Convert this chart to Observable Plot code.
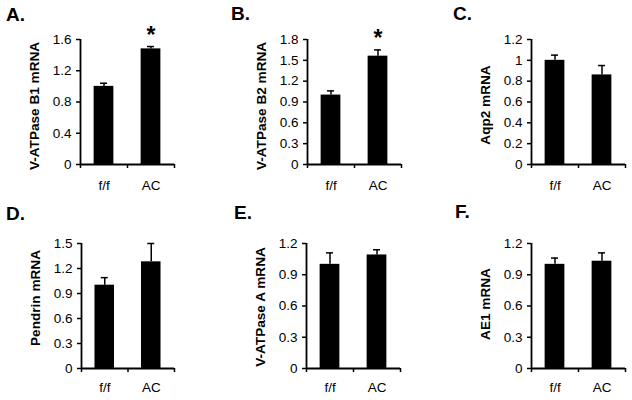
<!DOCTYPE html>
<html>
<head>
<meta charset="utf-8">
<script src="https://cdn.jsdelivr.net/npm/d3@7"></script>
<script src="https://cdn.jsdelivr.net/npm/@observablehq/plot@0.6"></script>
<style>
  html, body { margin: 0; padding: 0; background: #fff; }
  #chart { position: relative; width: 632px; height: 400px; font-family: Arial, "Liberation Sans", sans-serif; }
  .panel { position: absolute; }
  .letter { position: absolute; font-weight: bold; font-size: 19px; line-height: 19px; color: #000; }
</style>
</head>
<body>
<div id="chart"></div>
<script>
// ---- data ----
const groups = ["f/f", "AC"];
const panelLetters = ["A.", "B.", "C.", "D.", "E.", "F."];
const yLabels = ["V-ATPase B1 mRNA", "V-ATPase B2 mRNA", "Aqp2 mRNA", "Pendrin mRNA", "V-ATPase A mRNA", "AE1 mRNA"];
const ffMeans = [1.00, 1.00, 1.00, 1.00, 1.00, 1.00];
const acMeans = [1.48, 1.56, 0.86, 1.28, 1.09, 1.03];
const ffErrors = [0.04, 0.06, 0.05, 0.09, 0.11, 0.06];
const acErrors = [0.03, 0.09, 0.09, 0.22, 0.05, 0.08];
const acSignificant = [true, true, false, false, false, false];
const yTicks = [
  [0, 0.4, 0.8, 1.2, 1.6],
  [0, 0.3, 0.6, 0.9, 1.2, 1.5, 1.8],
  [0, 0.2, 0.4, 0.6, 0.8, 1, 1.2],
  [0, 0.3, 0.6, 0.9, 1.2, 1.5],
  [0, 0.3, 0.6, 0.9, 1.2],
  [0, 0.3, 0.6, 0.9, 1.2]
];

// ---- layout (styles / positions) ----
const layout = [
  {left: 0,   top: 0,   width: 210, mL: 80,  mR: 36, mT: 39, mB: 36, labelDy: 4,  lx: 6,   ly: 5},
  {left: 210, top: 0,   width: 210, mL: 97,  mR: 19, mT: 39, mB: 36, labelDy: 4,  lx: 231, ly: 4},
  {left: 420, top: 0,   width: 212, mL: 111, mR: 7,  mT: 39, mB: 36, labelDy: 3,  lx: 453, ly: 4},
  {left: 0,   top: 200, width: 210, mL: 81,  mR: 36, mT: 43, mB: 32, labelDy: -8, lx: 6,   ly: 204},
  {left: 210, top: 200, width: 210, mL: 96,  mR: 20, mT: 43, mB: 32, labelDy: 1,  lx: 234, ly: 203},
  {left: 420, top: 200, width: 212, mL: 111, mR: 7,  mT: 43, mB: 32, labelDy: -2, lx: 455, ly: 202}
];
const barHalf = 0.21;
const capHalf = 0.075;

const chart = document.getElementById("chart");

panelLetters.forEach((letter, p) => {
  const L = layout[p];
  const rows = groups.map((g, i) => ({
    group: g,
    pos: i + 0.5,
    mean: i === 0 ? ffMeans[p] : acMeans[p],
    err: i === 0 ? ffErrors[p] : acErrors[p],
    sig: i === 0 ? false : acSignificant[p]
  }));
  const ticks = yTicks[p];
  const yMax = ticks[ticks.length - 1];

  const svg = Plot.plot({
    width: L.width,
    height: 200,
    marginLeft: L.mL,
    marginRight: L.mR,
    marginTop: L.mT,
    marginBottom: L.mB,
    style: {fontFamily: "Arial, 'Liberation Sans', sans-serif", fontSize: "13px", color: "#000", background: "#fff", overflow: "visible"},
    x: {domain: [0, 2], axis: null},
    y: {domain: [0, yMax], axis: null},
    marks: [
      Plot.rect(rows, {x1: d => d.pos - barHalf, x2: d => d.pos + barHalf, y1: 0, y2: "mean", fill: "#000"}),
      Plot.ruleX(rows, {x: "pos", y1: "mean", y2: d => d.mean + d.err, stroke: "#000", strokeWidth: 1.5}),
      Plot.ruleY(rows, {x1: d => d.pos - capHalf, x2: d => d.pos + capHalf, y: d => d.mean + d.err, stroke: "#000", strokeWidth: 1.5}),
      Plot.text(rows.filter(d => d.sig), {x: "pos", y: d => d.mean + d.err, text: () => "*", fontSize: 23, fontWeight: "bold", dy: -11, fill: "#000"}),
      Plot.axisY({ticks: ticks, tickSize: 4, tickPadding: 5, tickFormat: d => String(d), label: null, strokeWidth: 1.5, fontSize: 13.5}),
      Plot.axisX({ticks: [0, 1, 2], tickSize: 4, tickFormat: () => "", label: null, strokeWidth: 1.5}),
      Plot.axisX({ticks: rows.map(d => d.pos), tickSize: 0, tickPadding: 16 - (L.top ? 2 : 0), tickFormat: d => groups[Math.floor(d)], label: null, fontSize: 13.5}),
      Plot.ruleX([0], {stroke: "#000", strokeWidth: 1.8}),
      Plot.ruleY([0], {stroke: "#000", strokeWidth: 1.8}),
      Plot.text([yLabels[p]], {frameAnchor: "left", text: d => d, textAnchor: "middle", rotate: -90, dx: -46, dy: L.labelDy, fontWeight: "bold", fontSize: 13.6, fill: "#000"})
    ]
  });
  const wrap = document.createElement("div");
  wrap.className = "panel";
  wrap.style.left = L.left + "px";
  wrap.style.top = L.top + "px";
  wrap.appendChild(svg);
  chart.appendChild(wrap);

  const lt = document.createElement("div");
  lt.className = "letter";
  lt.style.left = L.lx + "px";
  lt.style.top = L.ly + "px";
  lt.textContent = letter;
  chart.appendChild(lt);
});
</script>
</body>
</html>
